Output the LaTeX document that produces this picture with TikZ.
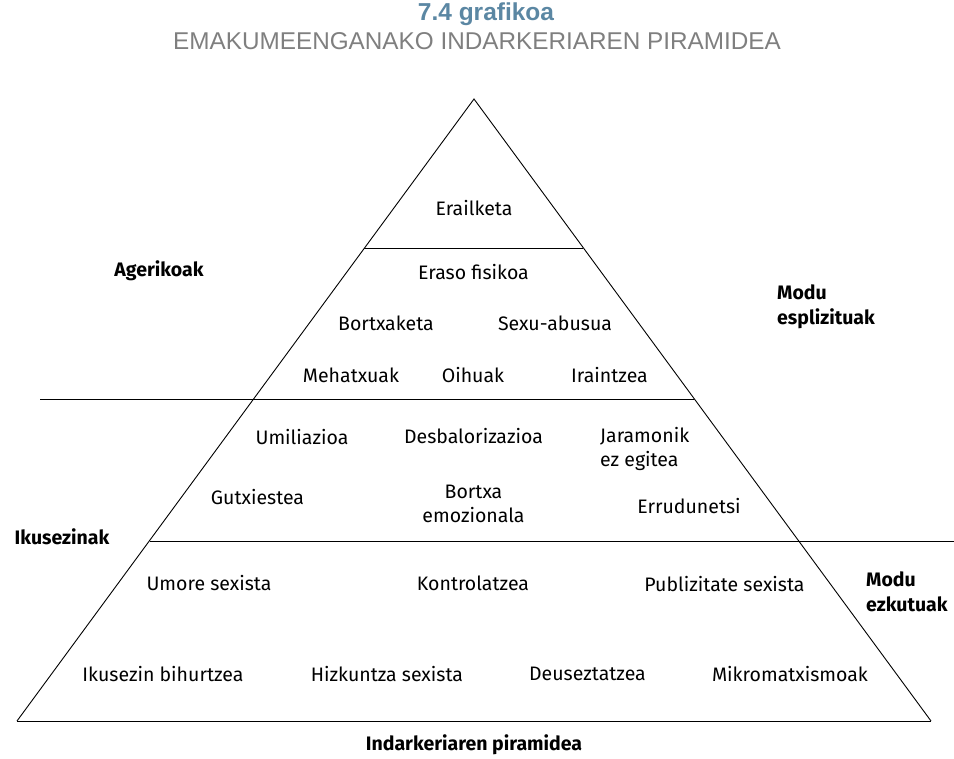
\documentclass[tikz,border=0pt]{standalone}
\usepackage{fontspec}
\setmainfont{Fira Sans}
\newfontfamily\titlefont{Liberation Sans}
\definecolor{titleblue}{HTML}{5B87A3}
\definecolor{subgray}{HTML}{7F7F7F}
\begin{document}
\begin{tikzpicture}[x=1pt,y=-1pt,
  lbl/.style={font=\fontsize{19.5}{24}\selectfont, align=center, inner sep=0pt},
  side/.style={font=\fontsize{19.5}{25}\selectfont\bfseries, align=left, inner sep=0pt},
  edge/.style={line width=0.9pt, black}]
\useasboundingbox (0,0) rectangle (954,759);
% title
\node[inner sep=0pt, font=\titlefont\fontsize{24.5}{26}\selectfont\bfseries, text=titleblue] (title) at (486,14) {7.4 grafikoa};
\node[inner sep=0pt, font=\titlefont\fontsize{24.3}{26}\selectfont, text=subgray] (subtitle) at (477,41) {EMAKUMEENGANAKO INDARKERIAREN PIRAMIDEA};
% pyramid
\coordinate (apex) at (474,99);
\coordinate (bl) at (17,721);
\coordinate (br) at (931,721);
\draw[edge] (bl) -- (apex) -- (br);
\draw[edge] (bl) -- (br);
\coordinate (l1a) at (364,248); \coordinate (l1b) at (583,248);
\draw[edge] (l1a) -- (l1b);
\coordinate (l2a) at (40,399); \coordinate (l2b) at (694,399);
\draw[edge] (l2a) -- (l2b);
\coordinate (l3a) at (150,541); \coordinate (l3b) at (954,541);
\draw[edge] (l3a) -- (l3b);
% level texts
\node[lbl] (n1) at (474,208) {Erailketa};
\node[lbl] (n2) at (473.5,272) {Eraso fisikoa};
\node[lbl] (n3) at (386,323) {Bortxaketa};
\node[lbl] (n4) at (555,323) {Sexu-abusua};
\node[lbl] (n5) at (351,375) {Mehatxuak};
\node[lbl] (n6) at (473,375) {Oihuak};
\node[lbl] (n7) at (609.5,375) {Iraintzea};
\node[lbl] (n8) at (302,437) {Umiliazioa};
\node[lbl] (n9) at (473.5,436) {Desbalorizazioa};
\node[lbl, align=left, anchor=west] (n10) at (600,449) {Jaramonik\\ez egitea};
\node[lbl] (n11) at (257.5,497) {Gutxiestea};
\node[lbl] (n12) at (473.5,504) {Bortxa\\emozionala};
\node[lbl] (n13) at (689,506) {Errudunetsi};
\node[lbl] (n14) at (209,583) {Umore sexista};
\node[lbl] (n15) at (473,583) {Kontrolatzea};
\node[lbl] (n16) at (724.5,584) {Publizitate sexista};
\node[lbl] (n17) at (163,674) {Ikusezin bihurtzea};
\node[lbl] (n18) at (387,674) {Hizkuntza sexista};
\node[lbl] (n19) at (587.5,674) {Deuseztatzea};
\node[lbl] (n20) at (790,674) {Mikromatxismoak};
% side labels
\node[side] (agerikoak) at (159,271) {Agerikoak};
\node[side, anchor=west] (esplizituak) at (777,307) {Modu\\esplizituak};
\node[side] (ikusezinak) at (62,537) {Ikusezinak};
\node[side, anchor=west] (ezkutuak) at (866,592) {Modu\\ezkutuak};
\node[side] (caption) at (474,745) {Indarkeriaren piramidea};
\end{tikzpicture}
\end{document}
